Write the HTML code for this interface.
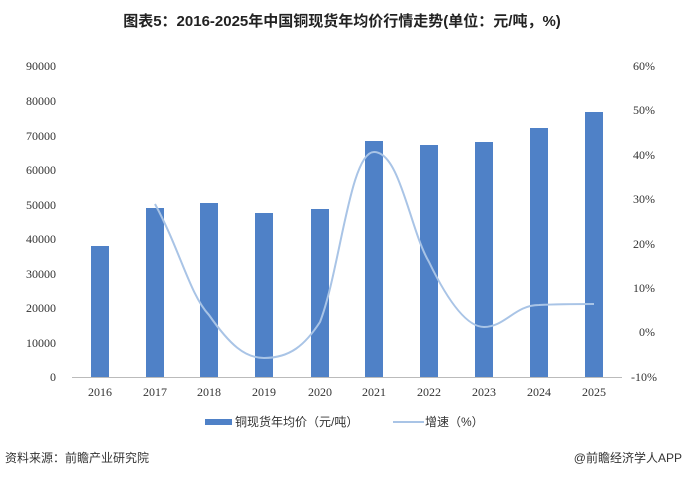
<!DOCTYPE html>
<html><head><meta charset="utf-8"><style>
body{margin:0;width:684px;height:478px;background:#fff;overflow:hidden}
text{font-family:"Liberation Serif","Noto Serif CJK SC",serif}
.c{font-family:"Liberation Sans","Noto Sans CJK SC",sans-serif}
</style></head><body>
<svg width="684" height="478" viewBox="0 0 684 478">
<text class="c" x="342" y="26" text-anchor="middle" font-size="15" font-weight="bold" fill="#222">图表5：2016-2025年中国铜现货年均价行情走势(单位：元/吨，%)</text>
<g font-size="12" fill="#333" text-anchor="end">
<text x="56" y="381">0</text><text x="56" y="347">10000</text><text x="56" y="312">20000</text><text x="56" y="278">30000</text><text x="56" y="243">40000</text><text x="56" y="209">50000</text><text x="56" y="174">60000</text><text x="56" y="140">70000</text><text x="56" y="105">80000</text><text x="56" y="70">90000</text>
</g>
<g font-size="12" fill="#333" text-anchor="start">
<text x="631" y="381">-10%</text><text x="639" y="336">0%</text><text x="633" y="292">10%</text><text x="633" y="248">20%</text><text x="633" y="203">30%</text><text x="633" y="159">40%</text><text x="633" y="114">50%</text><text x="633" y="70">60%</text>
</g>
<line x1="72" y1="377.5" x2="622" y2="377.5" stroke="#bbb"/>
<g fill="#4f81c7">
<rect x="91" y="246" width="18" height="131"/>
<rect x="146" y="208" width="18" height="169"/>
<rect x="200" y="203" width="18" height="174"/>
<rect x="255" y="213" width="18" height="164"/>
<rect x="311" y="209" width="18" height="168"/>
<rect x="365" y="141" width="18" height="236"/>
<rect x="420" y="145" width="18" height="232"/>
<rect x="475" y="142" width="18" height="235"/>
<rect x="530" y="128" width="18" height="249"/>
<rect x="585" y="112" width="18" height="265"/>
</g>
<path d="M155,204 C180,250 190,295 209,315 C230,345 245,358 264,358 C290,358 305,345 320,322 C340,270 350,152 374,152 C400,152 410,230 429,262 C445,295 465,327 484,327 C505,327 515,305 539,305 C560,304 580,304 594,304" fill="none" stroke="#a9c4e6" stroke-width="2"/>
<g font-size="12" fill="#333" text-anchor="middle">
<text x="100" y="396">2016</text><text x="155" y="396">2017</text><text x="209" y="396">2018</text><text x="264" y="396">2019</text><text x="320" y="396">2020</text><text x="374" y="396">2021</text><text x="429" y="396">2022</text><text x="484" y="396">2023</text><text x="539" y="396">2024</text><text x="594" y="396">2025</text>
</g>
<rect x="205" y="419" width="27" height="6" fill="#4f81c7"/>
<text class="c" x="235" y="426" font-size="12" fill="#333">铜现货年均价（元/吨）</text>
<line x1="393" y1="422" x2="424" y2="422" stroke="#a9c4e6" stroke-width="2"/>
<text class="c" x="425" y="426" font-size="12" fill="#333">增速（%）</text>
<text class="c" x="5" y="462" font-size="12" fill="#333">资料来源：前瞻产业研究院</text>
<text class="c" x="682" y="462" font-size="12" fill="#333" text-anchor="end">@前瞻经济学人APP</text>
</svg>
</body></html>
